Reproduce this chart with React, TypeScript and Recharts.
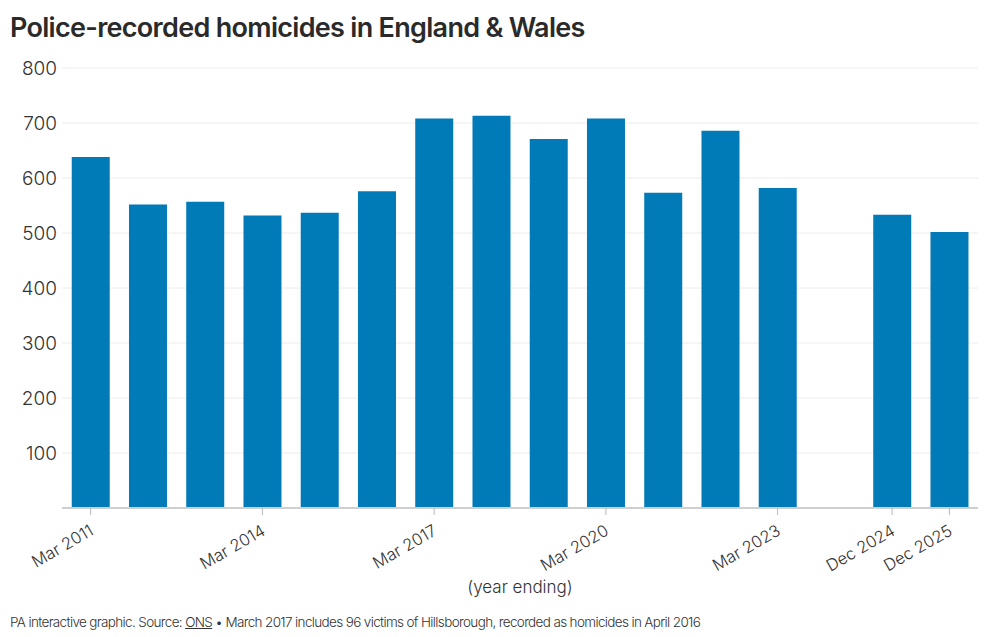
import React from "react";
import { BarChart, Bar, XAxis, YAxis, CartesianGrid } from "recharts";

// Year-ending periods; the empty slot marks the switch from March to December year ends
const periods = [
  "Mar 2011", "Mar 2012", "Mar 2013", "Mar 2014", "Mar 2015", "Mar 2016",
  "Mar 2017", "Mar 2018", "Mar 2019", "Mar 2020", "Mar 2021", "Mar 2022",
  "Mar 2023", "", "Dec 2024", "Dec 2025",
];
const homicides: (number | null)[] = [
  638, 552, 557, 532, 537, 576, 708, 713, 671, 708, 573, 686, 582, null, 533, 502,
];
const labelledPeriods = ["Mar 2011", "Mar 2014", "Mar 2017", "Mar 2020", "Mar 2023", "Dec 2024", "Dec 2025"];
const yTicks = [100, 200, 300, 400, 500, 600, 700, 800];

const data = periods.map((p, i) => ({ period: p, value: homicides[i] }));

const FONT = "Inter, 'Noto Sans', sans-serif";
const TEXT = "#333333";
const BLUE = "#007bb8";

const PeriodTick = (props: any) => {
  const { x, y, payload } = props;
  if (!labelledPeriods.includes(payload.value)) return null;
  const ax = x + 4;
  const ay = y + 20;
  return (
    <g>
      <line x1={x} y1={y - 6} x2={x} y2={y + 1} stroke="#b8b8b8" strokeWidth={1} />
      <text
        x={ax}
        y={ay}
        transform={`rotate(-30, ${ax}, ${ay})`}
        textAnchor="end"
        fill={TEXT}
        fontFamily={FONT}
        fontSize={16.5}
        fontWeight={300}
      >
        {payload.value}
      </text>
    </g>
  );
};

export default function App() {
  return (
    <div style={{ position: "absolute", left: 0, top: 0, width: 1000, height: 637, background: "#fff", fontFamily: FONT }}>
      <div
        style={{
          position: "absolute", left: 10, top: 10, fontSize: 27, fontWeight: 600,
          color: "#2a2a2a", letterSpacing: -0.7, whiteSpace: "nowrap", lineHeight: "36px",
        }}
      >
        Police-recorded homicides in England &amp; Wales
      </div>
      <div style={{ position: "absolute", left: 0, top: 0 }}>
        <BarChart
          width={1000}
          height={637}
          data={data}
          margin={{ top: 68, right: 22, bottom: 0, left: 0 }}
          barCategoryGap="17%"
        >
          <CartesianGrid vertical={false} stroke="#ececec" strokeWidth={1} />
          <XAxis
            dataKey="period"
            interval={0}
            height={129}
            tickLine={false}
            axisLine={{ stroke: "#cfcfcf", strokeWidth: 2 }}
            tick={<PeriodTick />}
            tickMargin={0}
          />
          <YAxis
            width={62}
            domain={[0, 800]}
            ticks={yTicks}
            axisLine={false}
            tickLine={false}
            tickSize={5}
            tickMargin={0}
            tick={{ fill: TEXT, fontSize: 19, fontFamily: FONT, fontWeight: 300 }}
          />
          <Bar dataKey="value" fill={BLUE} isAnimationActive={false} />
        </BarChart>
      </div>
      <div
        style={{
          position: "absolute", left: 0, width: 1040, top: 575, textAlign: "center",
          fontSize: 17, fontWeight: 300, color: TEXT, lineHeight: "24px",
        }}
      >
        (year ending)
      </div>
      <div
        style={{
          position: "absolute", left: 10, top: 612, fontSize: 13.5, fontWeight: 300,
          color: TEXT, letterSpacing: -0.65, whiteSpace: "nowrap", lineHeight: "20px",
        }}
      >
        PA interactive graphic. Source: <span style={{ textDecoration: "underline" }}>ONS</span> • March 2017 includes 96 victims of Hillsborough, recorded as homicides in April 2016
      </div>
    </div>
  );
}
